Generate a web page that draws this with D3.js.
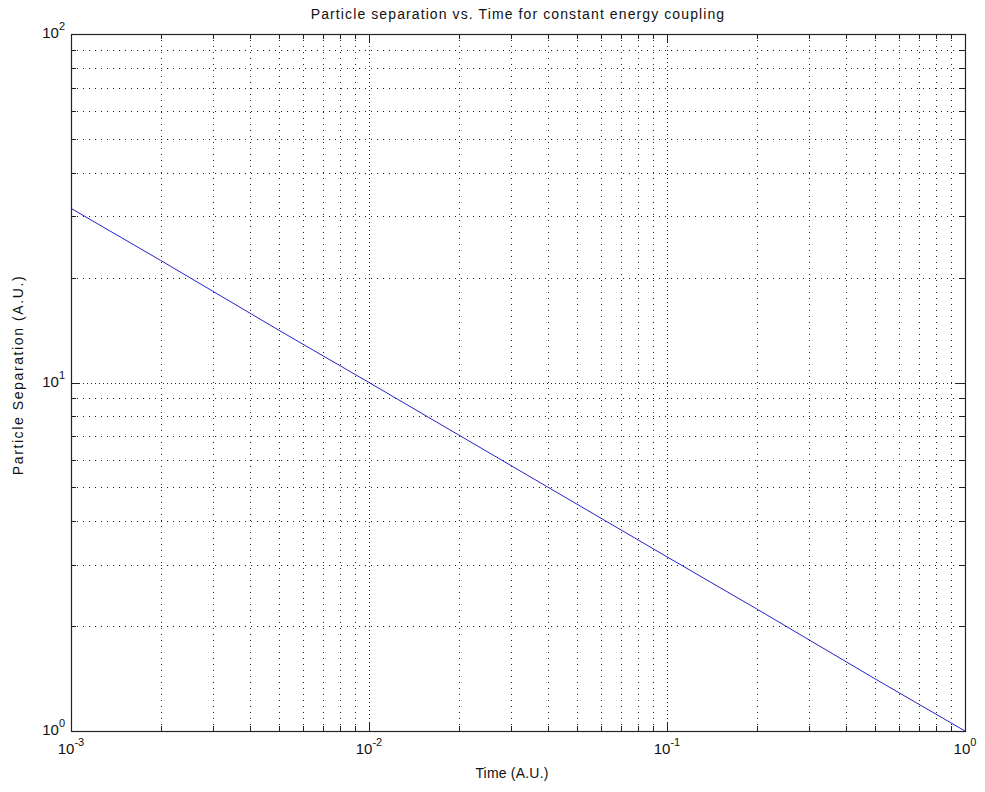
<!DOCTYPE html>
<html>
<head>
<meta charset="utf-8">
<script src="https://cdn.jsdelivr.net/npm/d3@7"></script>
<style>
  body { margin: 0; background: #fff; }
  text { font-family: Arial, "Liberation Sans", Helvetica, sans-serif; fill: #111; }
</style>
</head>
<body>
<svg id="chart" width="985" height="792"></svg>
<script>
// values
var time = [0.001, 0.002, 0.005, 0.01, 0.02, 0.05, 0.1, 0.2, 0.5, 1];
var separation = [31.6, 22.4, 14.1, 10, 7.07, 4.47, 3.16, 2.24, 1.41, 1];

var xMajor = [1e-3, 1e-2, 1e-1, 1];
var xExp = ["-3", "-2", "-1", "0"];
var yMajor = [1, 10, 100];
var yExp = ["0", "1", "2"];

var title = "Particle separation vs. Time for constant energy coupling";
var xTitle = "Time (A.U.)";
var yTitle = "Particle Separation (A.U.)";

var svg = d3.select("#chart");
// plot box (note: "top" is reserved by window, so use boxTop)
var boxLeft = 71, boxRight = 965, boxTop = 34, boxBottom = 731;

var x = d3.scaleLog().domain([1e-3, 1]).range([boxLeft, boxRight]);
var y = d3.scaleLog().domain([1, 100]).range([boxBottom, boxTop]);

var isMajor = function(v) { return Math.abs(Math.log10(v) - Math.round(Math.log10(v))) < 1e-9; };
var xTicks = x.ticks(), yTicks = y.ticks();

var g = svg.append("g");

// grid (dotted)
g.selectAll(".gx").data(xTicks.filter(function(d) { return d > 1.001e-3 && d < 0.999; }))
  .enter().append("line")
  .attr("x1", function(d) { return Math.round(x(d)) + 0.5; })
  .attr("x2", function(d) { return Math.round(x(d)) + 0.5; })
  .attr("y1", boxTop).attr("y2", boxBottom)
  .attr("stroke", "#222").attr("stroke-width", 1)
  .attr("stroke-dasharray", function(d) { return isMajor(d) ? "1,3" : "1,5"; });

g.selectAll(".gy").data(yTicks.filter(function(d) { return d > 1.001 && d < 99.9; }))
  .enter().append("line")
  .attr("y1", function(d) { return Math.round(y(d)) + 0.5; })
  .attr("y2", function(d) { return Math.round(y(d)) + 0.5; })
  .attr("x1", boxLeft).attr("x2", boxRight)
  .attr("stroke", "#222").attr("stroke-width", 1)
  .attr("stroke-dasharray", function(d) { return isMajor(d) ? "1,3" : "1,5"; });

// inward ticks on all four sides
function tl(d) { return isMajor(d) ? 9 : 5; }
xTicks.forEach(function(d) {
  var px = Math.round(x(d)) + 0.5;
  g.append("line").attr("x1", px).attr("x2", px).attr("y1", boxBottom).attr("y2", boxBottom - tl(d)).attr("stroke", "#222");
  g.append("line").attr("x1", px).attr("x2", px).attr("y1", boxTop).attr("y2", boxTop + tl(d)).attr("stroke", "#222");
});
yTicks.forEach(function(d) {
  var py = Math.round(y(d)) + 0.5;
  g.append("line").attr("y1", py).attr("y2", py).attr("x1", boxLeft).attr("x2", boxLeft + tl(d)).attr("stroke", "#222");
  g.append("line").attr("y1", py).attr("y2", py).attr("x1", boxRight).attr("x2", boxRight - tl(d)).attr("stroke", "#222");
});

// axes box
g.append("rect").attr("x", boxLeft + 0.5).attr("y", boxTop + 0.5)
  .attr("width", boxRight - boxLeft).attr("height", boxBottom - boxTop)
  .attr("fill", "none").attr("stroke", "#222").attr("stroke-width", 1.2);

// data line
var line = d3.line()
  .x(function(d, i) { return x(time[i]); })
  .y(function(d, i) { return y(separation[i]); });
g.append("path").datum(time).attr("d", line)
  .attr("fill", "none").attr("stroke", "#2323c8").attr("stroke-width", 1);

// tick labels
xMajor.forEach(function(d, i) {
  var t = g.append("text").attr("x", x(d)).attr("y", 754)
    .attr("text-anchor", "middle").style("font-size", "15px");
  t.append("tspan").text("10");
  t.append("tspan").attr("dy", -8).style("font-size", "11px").text(xExp[i]);
});
yMajor.forEach(function(d, i) {
  var t = g.append("text").attr("x", 65).attr("y", y(d) + 4)
    .attr("text-anchor", "end").style("font-size", "15px");
  t.append("tspan").text("10");
  t.append("tspan").attr("dy", -8).style("font-size", "11px").text(yExp[i]);
});

// titles (MATLAB spacing is a bit wider)
svg.append("text").attr("x", (boxLeft + boxRight) / 2).attr("y", 19)
  .attr("text-anchor", "middle").style("font-size", "14px")
  .style("letter-spacing", "1.1px").text(title);
svg.append("text").attr("x", 512).attr("y", 778)
  .attr("text-anchor", "middle").style("font-size", "14px")
  .style("letter-spacing", "0.2px").text(xTitle);
svg.append("text").attr("transform", "translate(23,375) rotate(-90)")
  .attr("text-anchor", "middle").style("font-size", "14px")
  .style("letter-spacing", "1.6px").text(yTitle);
</script>
</body>
</html>
